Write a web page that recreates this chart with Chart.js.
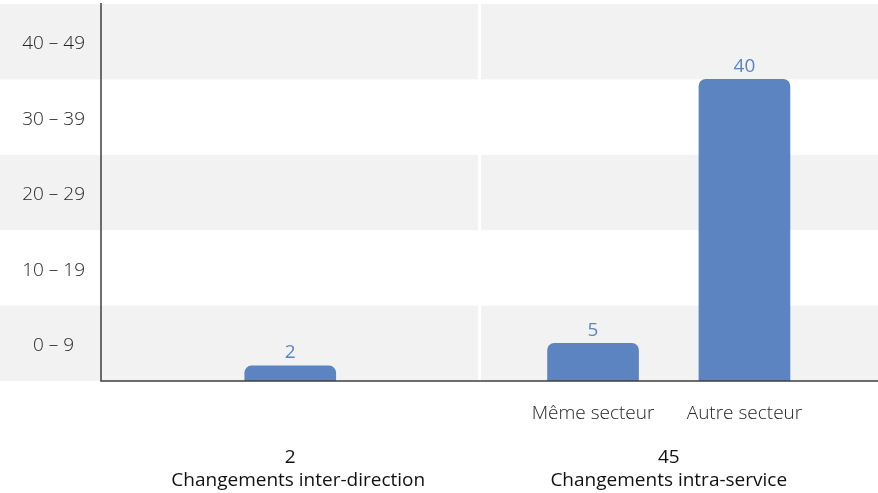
<!DOCTYPE html>
<html>
<head>
<meta charset="utf-8">
<script src="https://cdn.jsdelivr.net/npm/chart.js@4"></script>
<style>
  html, body { margin: 0; padding: 0; background: #fff; }
  #wrap { width: 878px; height: 493px; }
</style>
</head>
<body>
<div id="wrap"><canvas id="chart"></canvas></div>
<script>
// Données
const bandLabels = ['0 – 9', '10 – 19', '20 – 29', '30 – 39', '40 – 49'];
const categories = ['', '', '', '', '', '', 'Même secteur', '', 'Autre secteur', ''];
const values = [null, null, 2, null, null, null, 5, null, 40, null];
const groupNames = ['Changements inter-direction', 'Changements intra-service'];
const groupTotals = ['2', '45'];
const groupSizes = [5, 5];

const FONT = "'Open Sans', 'Noto Sans', sans-serif";
const BLUE = '#5b84c1';

// bandes grises + séparateur entre les groupes
const bandsPlugin = {
    id: 'bands',
    beforeDraw(chart) {
        const { ctx, scales: { x, y }, chartArea } = chart;
        ctx.save();
        bandLabels.forEach((_, i) => {
            if (i % 2 === 0) {
                const top = y.getPixelForValue((i + 1) * 10);
                const bottom = y.getPixelForValue(i * 10);
                ctx.fillStyle = '#f2f2f2';
                ctx.fillRect(0, top, chart.width, bottom - top);
            }
        });
        // séparateur blanc
        let idx = 0;
        for (let g = 0; g < groupSizes.length - 1; g++) {
            idx += groupSizes[g];
            const sx = (x.getPixelForValue(idx - 1) + x.getPixelForValue(idx)) / 2;
            ctx.fillStyle = '#ffffff';
            ctx.fillRect(sx - 1.5, chartArea.top, 3, chartArea.bottom - chartArea.top);
        }
        ctx.restore();
    },
    afterDatasetsDraw(chart) {
        const { ctx, scales: { x, y }, chartArea } = chart;
        ctx.save();
        // axes
        ctx.strokeStyle = '#3f3f3f';
        ctx.lineWidth = 1.5;
        ctx.beginPath();
        ctx.moveTo(chartArea.left, chartArea.top - 1);
        ctx.lineTo(chartArea.left, chartArea.bottom);
        ctx.lineTo(chart.width, chartArea.bottom);
        ctx.stroke();

        // étiquettes de valeurs
        const meta = chart.getDatasetMeta(0);
        ctx.fillStyle = BLUE;
        ctx.font = '19px ' + FONT;
        ctx.textAlign = 'center';
        ctx.textBaseline = 'middle';
        meta.data.forEach((bar, i) => {
            if (values[i] == null) return;
            ctx.fillText(String(values[i]), bar.x, bar.y - 13);
        });

        // libellés de groupes
        let start = 0;
        ctx.fillStyle = '#111';
        ctx.font = '19px ' + FONT;
        groupNames.forEach((name, g) => {
            const end = start + groupSizes[g] - 1;
            const half = x.width / categories.length / 2;
            const cx = (x.getPixelForValue(start) - half + x.getPixelForValue(end) + half) / 2;
            ctx.fillText(groupTotals[g], cx, 458);
            ctx.fillText(name, g === 0 ? cx + 8 : cx, 481);
            start = end + 1;
        });
        ctx.restore();
    }
};

new Chart(document.getElementById('chart'), {
    type: 'bar',
    data: {
        labels: categories,
        datasets: [{
            data: values,
            backgroundColor: BLUE,
            barThickness: 91,
            borderRadius: { topLeft: 7, topRight: 7, bottomLeft: 0, bottomRight: 0 },
            borderSkipped: 'start'
        }]
    },
    options: {
        responsive: true,
        maintainAspectRatio: false,
        animation: false,
        layout: { padding: { top: 4, right: 20, left: 0, bottom: 0 } },
        plugins: { legend: { display: false }, tooltip: { enabled: false } },
        scales: {
            x: {
                grid: { display: false, drawTicks: false },
                border: { display: false },
                ticks: {
                    autoSkip: false,
                    maxRotation: 0,
                    padding: 21,
                    color: '#262626',
                    font: { family: FONT, size: 19, weight: 300 }
                },
                afterFit(scale) {
                    scale.height = 112;
                    scale.paddingLeft = 0;
                    scale.paddingRight = 0;
                }
            },
            y: {
                min: 0,
                max: 50,
                grid: { display: false, drawTicks: false },
                border: { display: false },
                afterBuildTicks(scale) {
                    // une étiquette au milieu de chaque bande
                    scale.ticks = bandLabels.map((_, i) => ({ value: i * 10 + 4.7 }));
                },
                ticks: {
                    autoSkip: false,
                    crossAlign: 'center',
                    padding: 16,
                    color: '#262626',
                    font: { family: FONT, size: 19, weight: 300 },
                    callback: (v) => bandLabels[Math.round((v - 5) / 10)]
                },
                afterFit(scale) {
                    scale.width = 101;
                    scale.paddingTop = 0;
                    scale.paddingBottom = 0;
                }
            }
        }
    },
    plugins: [bandsPlugin]
});
</script>
</body>
</html>
